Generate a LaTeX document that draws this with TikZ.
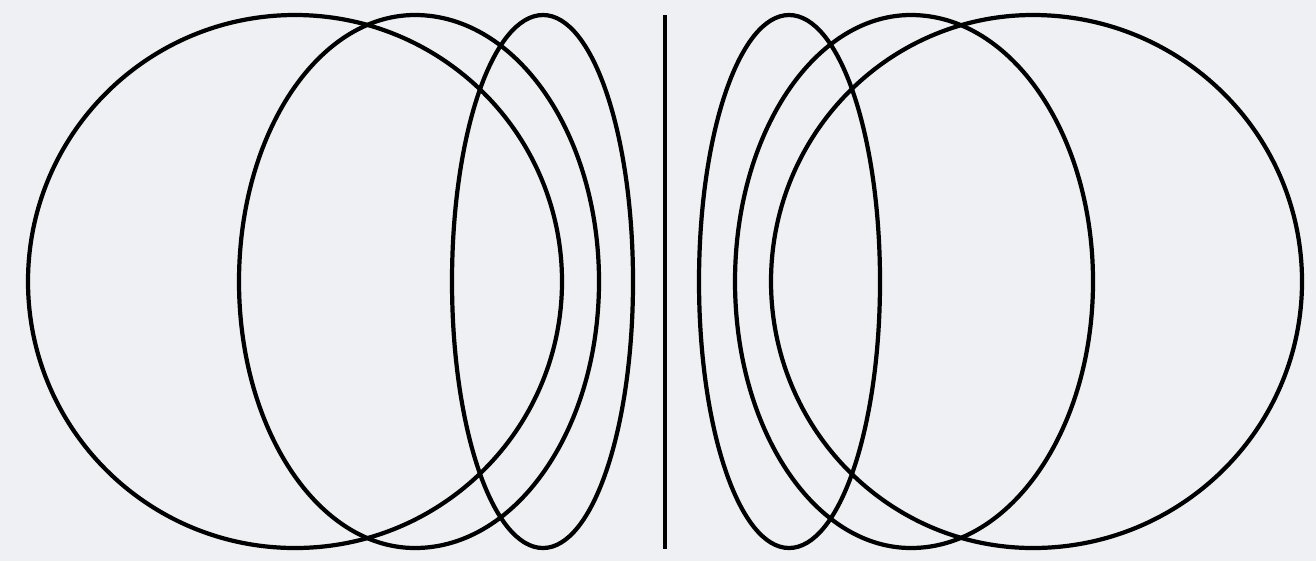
\documentclass[tikz,border=0pt]{standalone}
\definecolor{bgc}{RGB}{238,240,243}
\begin{document}
\begin{tikzpicture}[x=0.1mm,y=0.1mm,
  loop/.style={draw=black,line width=1.2pt},
  axisline/.style={draw=black,line width=1.2pt}]
\fill[bgc] (0,0) rectangle (1316,561);
\useasboundingbox (0,0) rectangle (1316,561);
% left group
\draw[loop] (295,546) arc[start angle=90,end angle=270,x radius=26.7mm,y radius=26.65mm]
  arc[start angle=-90,end angle=90,x radius=26.7mm,y radius=26.65mm] -- cycle;
\draw[loop] (415,546) arc[start angle=90,end angle=270,x radius=17.6mm,y radius=26.65mm]
  arc[start angle=-90,end angle=90,x radius=18.4mm,y radius=26.65mm] -- cycle;
\draw[loop] (543,546) arc[start angle=90,end angle=270,x radius=9.1mm,y radius=26.65mm]
  arc[start angle=-90,end angle=90,x radius=9.0mm,y radius=26.65mm] -- cycle;
% middle line
\coordinate (ltop) at (665,546);
\coordinate (lbot) at (665,12);
\draw[axisline] (ltop) -- (lbot);
% right group
\draw[loop] (1033,546) arc[start angle=90,end angle=270,x radius=26.2mm,y radius=26.65mm]
  arc[start angle=-90,end angle=90,x radius=26.9mm,y radius=26.65mm] -- cycle;
\draw[loop] (911,546) arc[start angle=90,end angle=270,x radius=17.6mm,y radius=26.65mm]
  arc[start angle=-90,end angle=90,x radius=18.2mm,y radius=26.65mm] -- cycle;
\draw[loop] (789,546) arc[start angle=90,end angle=270,x radius=9.0mm,y radius=26.65mm]
  arc[start angle=-90,end angle=90,x radius=9.1mm,y radius=26.65mm] -- cycle;
\end{tikzpicture}
\end{document}
